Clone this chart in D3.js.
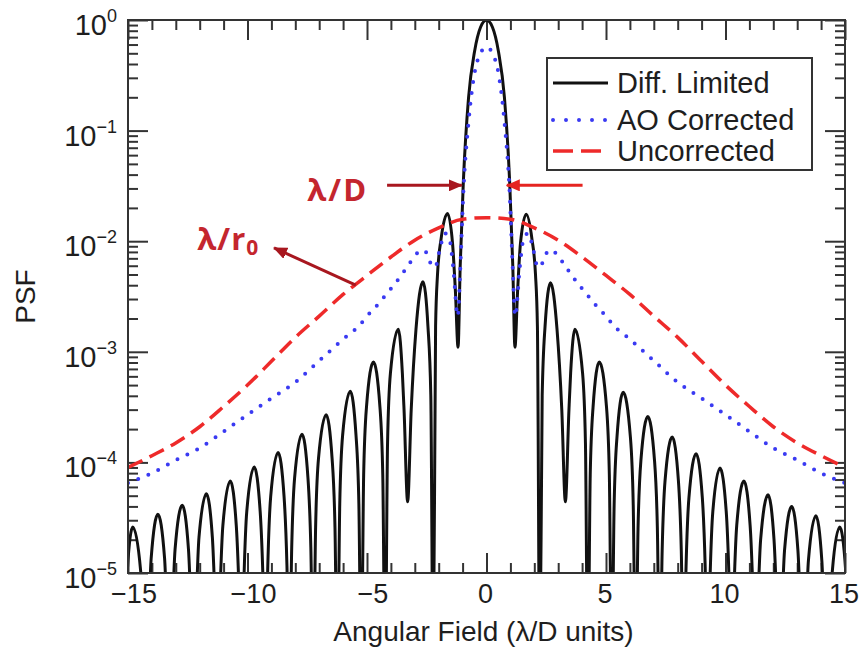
<!DOCTYPE html>
<html>
<head>
<meta charset="utf-8">
<script src="https://d3js.org/d3.v7.min.js"></script>
<style>
  body { margin: 0; background: #fff; }
  text { font-family: "Liberation Sans", Arial, Helvetica, sans-serif; fill: #1e1e1e; }
</style>
</head>
<body>
<div id="chart"></div>
<script>
// axis ticks and labels
var xTicks = [-15, -10, -5, 0, 5, 10, 15];
var xTickLabels = ["\u221215", "\u221210", "\u22125", "0", "5", "10", "15"];
var yTicks = [1e0, 1e-1, 1e-2, 1e-3, 1e-4, 1e-5];
var yTickExp = ["0", "\u22121", "\u22122", "\u22123", "\u22124", "\u22125"];

// diffraction limited PSF, [angular field, psf]
// (values of 1e-6 are the nulls that fall below the bottom axis)
var diffLimited = [
  [-15.25, 1e-6], [-15.15, 2.5e-6], [-15.03, 1.04e-5], [-14.8, 2.6e-5], [-14.47, 1.04e-5], [-14.35, 2.5e-6], [-14.25, 1e-6],
  [-14.15, 3.2e-6], [-14.03, 1.36e-5], [-13.75, 3.4e-5], [-13.47, 1.36e-5], [-13.35, 3.2e-6], [-13.25, 1e-6],
  [-13.15, 3.9e-6], [-13.03, 1.64e-5], [-12.73, 4.1e-5], [-12.47, 1.64e-5], [-12.35, 3.9e-6], [-12.25, 1e-6],
  [-12.15, 4.9e-6], [-12.03, 2.1e-5], [-11.72, 5.2e-5], [-11.47, 2.1e-5], [-11.35, 4.9e-6], [-11.25, 1e-6],
  [-11.15, 6.5e-6], [-11.03, 2.7e-5], [-10.72, 6.8e-5], [-10.47, 2.7e-5], [-10.35, 6.5e-6], [-10.25, 1e-6],
  [-10.15, 8.6e-6], [-10.03, 3.6e-5], [-9.72, 9.1e-5], [-9.47, 3.6e-5], [-9.35, 8.6e-6], [-9.25, 1e-6],
  [-9.15, 1.17e-5], [-9.03, 4.9e-5], [-8.72, 1.23e-4], [-8.47, 4.9e-5], [-8.35, 1.17e-5], [-8.25, 1e-6],
  [-8.15, 1.7e-5], [-8.03, 7.2e-5], [-7.72, 1.8e-4], [-7.47, 7.2e-5], [-7.35, 1.7e-5], [-7.25, 1e-6],
  [-7.15, 2.6e-5], [-7.03, 1.08e-4], [-6.71, 2.7e-4], [-6.46, 1.08e-4], [-6.34, 2.6e-5], [-6.24, 1e-6],
  [-6.14, 4.2e-5], [-6.02, 1.76e-4], [-5.7, 4.4e-4], [-5.46, 1.76e-4], [-5.34, 4.2e-5], [-5.24, 1e-6],
  [-5.14, 7.7e-5], [-5.02, 3.2e-4], [-4.73, 8.1e-4], [-4.46, 3.2e-4], [-4.34, 7.7e-5], [-4.24, 1e-6],
  [-4.14, 1.5e-4], [-4.02, 6.4e-4], [-3.69, 1.6e-3], [-3.52, 6.4e-4], [-3.45, 3e-4], [-3.3, 4.4e-5],
  [-3.15, 3e-4], [-2.95, 1.6e-3], [-2.66, 4.3e-3], [-2.45, 1.7e-3], [-2.33, 4e-4], [-2.23, 1e-6],
  [-2.13, 1.7e-3], [-2.05, 5e-3], [-1.9, 0.0105], [-1.63, 0.0178], [-1.42, 9.5e-3], [-1.3, 3.5e-3], [-1.19, 1.1e-3],
  [-1.1, 6e-3], [-0.97, 0.034], [-0.75, 0.2], [-0.5, 0.52], [-0.25, 0.86], [0, 1],
  [0.25, 0.86], [0.5, 0.52], [0.75, 0.2], [0.97, 0.034], [1.1, 6e-3],
  [1.19, 1.1e-3], [1.3, 3.5e-3], [1.42, 9.5e-3], [1.66, 0.0175], [1.9, 0.0105], [2.05, 5e-3], [2.13, 1.7e-3], [2.23, 1e-6],
  [2.33, 4e-4], [2.45, 1.7e-3], [2.68, 4.2e-3], [2.95, 1.6e-3], [3.15, 3e-4], [3.3, 4.4e-5],
  [3.45, 3e-4], [3.52, 6.4e-4], [3.7, 1.6e-3], [4.02, 6.4e-4], [4.14, 1.5e-4], [4.24, 1e-6],
  [4.34, 7.7e-5], [4.46, 3.2e-4], [4.72, 8.1e-4], [5.02, 3.2e-4], [5.14, 7.7e-5], [5.24, 1e-6],
  [5.34, 4.1e-5], [5.46, 1.7e-4], [5.72, 4.3e-4], [6.02, 1.7e-4], [6.14, 4.1e-5], [6.24, 1e-6],
  [6.34, 2.5e-5], [6.46, 1.04e-4], [6.75, 2.6e-4], [7.03, 1.04e-4], [7.15, 2.5e-5], [7.25, 1e-6],
  [7.35, 1.6e-5], [7.47, 6.8e-5], [7.77, 1.7e-4], [8.03, 6.8e-5], [8.15, 1.6e-5], [8.25, 1e-6],
  [8.35, 1.14e-5], [8.47, 4.8e-5], [8.77, 1.2e-4], [9.03, 4.8e-5], [9.15, 1.14e-5], [9.25, 1e-6],
  [9.35, 8.5e-6], [9.47, 3.6e-5], [9.77, 8.9e-5], [10.03, 3.6e-5], [10.15, 8.5e-6], [10.25, 1e-6],
  [10.35, 6.5e-6], [10.47, 2.7e-5], [10.77, 6.8e-5], [11.03, 2.7e-5], [11.15, 6.5e-6], [11.25, 1e-6],
  [11.35, 4.8e-6], [11.47, 2.0e-5], [11.78, 5.1e-5], [12.03, 2.0e-5], [12.15, 4.8e-6], [12.25, 1e-6],
  [12.35, 3.8e-6], [12.47, 1.6e-5], [12.77, 4.0e-5], [13.03, 1.6e-5], [13.15, 3.8e-6], [13.25, 1e-6],
  [13.35, 3.1e-6], [13.47, 1.3e-5], [13.78, 3.3e-5], [14.03, 1.3e-5], [14.15, 3.1e-6], [14.25, 1e-6],
  [14.35, 2.5e-6], [14.47, 1.04e-5], [14.78, 2.6e-5], [15.03, 1.04e-5], [15.15, 2.5e-6], [15.25, 1e-6]
];

// AO corrected PSF
var aoCorrected = [
  [-15, 6.5e-5], [-14, 8e-5], [-13, 1.05e-4], [-12, 1.35e-4], [-11, 1.9e-4], [-10, 2.7e-4],
  [-9, 3.8e-4], [-8, 5.3e-4], [-7, 8.3e-4], [-6, 1.3e-3], [-5.3, 1.75e-3], [-5, 2.1e-3],
  [-4.6, 2.6e-3], [-4.2, 3.3e-3], [-3.6, 4.8e-3], [-3.2, 6.4e-3], [-2.9, 7.8e-3], [-2.6, 8.3e-3],
  [-2.35, 6.4e-3], [-2.15, 5.8e-3], [-1.95, 8.5e-3], [-1.75, 0.0118], [-1.55, 0.0105], [-1.4, 6e-3],
  [-1.2, 2.1e-3], [-1.1, 5.5e-3], [-0.97, 0.027], [-0.75, 0.12], [-0.5, 0.33], [-0.25, 0.5], [0, 0.57],
  [0.25, 0.5], [0.5, 0.33], [0.75, 0.12], [0.97, 0.027], [1.1, 5.5e-3], [1.2, 2.1e-3],
  [1.4, 6e-3], [1.55, 0.0105], [1.75, 0.0118], [1.95, 8.5e-3], [2.15, 5.8e-3], [2.35, 6.4e-3],
  [2.6, 8.3e-3], [2.9, 7.8e-3], [3.2, 6.4e-3], [3.6, 4.8e-3], [4.2, 3.3e-3], [4.6, 2.6e-3],
  [5, 2.1e-3], [5.3, 1.75e-3], [6, 1.3e-3], [7, 8.3e-4], [8, 5.3e-4], [9, 3.8e-4],
  [10, 2.7e-4], [11, 1.9e-4], [12, 1.35e-4], [13, 1.05e-4], [14, 8e-5], [15, 6.5e-5]
];

// uncorrected (seeing limited) PSF
var uncorrected = [
  [-15, 9e-5], [-14, 1.15e-4], [-13, 1.5e-4], [-12, 2.1e-4], [-11, 3.2e-4], [-10, 5e-4],
  [-9, 8.2e-4], [-8, 1.35e-3], [-7, 2.1e-3], [-6, 3.3e-3], [-5, 4.9e-3], [-4, 7.2e-3],
  [-3, 0.0102], [-2, 0.0132], [-1, 0.0158], [0, 0.0163], [1, 0.0158], [2, 0.0132],
  [3, 0.0102], [4, 7.2e-3], [5, 4.9e-3], [6, 3.3e-3], [7, 2.1e-3], [8, 1.35e-3],
  [9, 8.2e-4], [10, 5e-4], [11, 3.2e-4], [12, 2.1e-4], [13, 1.5e-4], [14, 1.15e-4], [15, 9e-5]
];

var legendLabels = ["Diff. Limited", "AO Corrected", "Uncorrected"];

// set the dimensions and margins of the graph
var margin = {top: 20, right: 18, bottom: 77, left: 128},
    width = 863 - margin.left - margin.right,
    height = 650 - margin.top - margin.bottom;

var svg = d3.select("#chart")
  .append("svg")
    .attr("width", width + margin.left + margin.right)
    .attr("height", height + margin.top + margin.bottom);

var g = svg.append("g")
    .attr("transform", "translate(" + margin.left + "," + margin.top + ")");

var x = d3.scaleLinear().domain([-15, 15]).range([0, width]);
var y = d3.scaleLog().domain([1e-5, 1]).range([height, 0]);

var defs = svg.append("defs");
defs.append("clipPath").attr("id", "plotclip")
  .append("rect").attr("width", width).attr("height", height);

function arrowHead(id, color) {
  defs.append("marker")
      .attr("id", id)
      .attr("markerUnits", "userSpaceOnUse")
      .attr("viewBox", "0 0 14 12")
      .attr("markerWidth", 14).attr("markerHeight", 12)
      .attr("refX", 13).attr("refY", 6)
      .attr("orient", "auto")
    .append("path")
      .attr("d", "M0,0 L14,6 L0,12 Z")
      .attr("fill", color);
}
arrowHead("headDark", "#a8171f");
arrowHead("headRed", "#e52420");

// ticks: inward on all four sides
var xMinor = x.ticks(30).filter(function(d) { return xTicks.indexOf(d) < 0; });
var yMinor = y.ticks().filter(function(d) { return yTicks.indexOf(d) < 0; });

function styleAxis(sel) {
  sel.select(".domain").remove();
  sel.selectAll(".tick line").attr("stroke", "#333").attr("stroke-width", 2);
  sel.selectAll(".tick text").remove();
}

[[d3.axisBottom, height], [d3.axisTop, 0]].forEach(function(a) {
  g.append("g").attr("transform", "translate(0," + a[1] + ")")
    .call(a[0](x).tickValues(xTicks).tickSize(-20).tickFormat("")).call(styleAxis);
  g.append("g").attr("transform", "translate(0," + a[1] + ")")
    .call(a[0](x).tickValues(xMinor).tickSize(-10).tickFormat("")).call(styleAxis);
});
[[d3.axisLeft, 0], [d3.axisRight, width]].forEach(function(a) {
  g.append("g").attr("transform", "translate(" + a[1] + ",0)")
    .call(a[0](y).tickValues(yTicks).tickSize(-20).tickFormat("")).call(styleAxis);
  g.append("g").attr("transform", "translate(" + a[1] + ",0)")
    .call(a[0](y).tickValues(yMinor).tickSize(-10).tickFormat("")).call(styleAxis);
});

// tick labels
g.selectAll(".xlab").data(xTicks).enter().append("text")
    .attr("class", "xlab")
    .attr("x", function(d) { return x(d) + (d < 0 ? 6 : -1); })
    .attr("y", height + 30)
    .attr("text-anchor", "middle")
    .style("font-size", "27px")
    .text(function(d, i) { return xTickLabels[i]; });

var ylab = g.selectAll(".ylab").data(yTicks).enter().append("text")
    .attr("class", "ylab")
    .attr("x", -11)
    .attr("y", function(d) { return y(d) + 15; })
    .attr("text-anchor", "end")
    .style("font-size", "29px");
ylab.append("tspan").text("10");
ylab.append("tspan").attr("dy", -13).style("font-size", "18px")
    .text(function(d, i) { return yTickExp[i]; });

// axis titles
g.append("text")
    .attr("x", x(0) - 3).attr("y", height + 68)
    .attr("text-anchor", "middle")
    .style("font-size", "28px")
    .text("Angular Field (\u03bb/D units)");
g.append("text")
    .attr("transform", "translate(" + (-93) + "," + (height / 2) + ") rotate(-90)")
    .attr("text-anchor", "middle")
    .style("font-size", "28px")
    .text("PSF");

// curves
var line = d3.line()
    .x(function(d) { return x(d[0]); })
    .y(function(d) { return y(d[1]); })
    .curve(d3.curveMonotoneX);

var plot = g.append("g").attr("clip-path", "url(#plotclip)");

plot.append("path").datum(diffLimited)
    .attr("d", line).attr("fill", "none")
    .attr("stroke", "#111").attr("stroke-width", 3).attr("stroke-linejoin", "round");
plot.append("path").datum(uncorrected)
    .attr("d", line).attr("fill", "none")
    .attr("stroke", "#ee2a2a").attr("stroke-width", 3.5).attr("stroke-dasharray", "16 8");
plot.append("path").datum(aoCorrected)
    .attr("d", line).attr("fill", "none")
    .attr("stroke", "#3a3af2").attr("stroke-width", 4)
    .attr("stroke-linecap", "round").attr("stroke-dasharray", "0 11");

// frame
g.append("rect").attr("width", width).attr("height", height)
    .attr("fill", "none").attr("stroke", "#333").attr("stroke-width", 2);

// legend
var legend = g.append("g").attr("transform", "translate(" + (547 - margin.left) + "," + (58 - margin.top) + ")");
legend.append("rect").attr("width", 265).attr("height", 112)
    .attr("fill", "#fff").attr("stroke", "#333").attr("stroke-width", 2);
var legendStyles = [
  {stroke: "#111", width: 3, dash: null, cap: "butt"},
  {stroke: "#3a3af2", width: 4, dash: "0 13", cap: "round"},
  {stroke: "#ee2a2a", width: 3.5, dash: "20 8", cap: "butt"}
];
var rowY = [25, 62, 93];
legendLabels.forEach(function(lab, i) {
  var s = legendStyles[i];
  legend.append("line")
      .attr("x1", 6).attr("x2", 61).attr("y1", rowY[i]).attr("y2", rowY[i])
      .attr("stroke", s.stroke).attr("stroke-width", s.width)
      .attr("stroke-linecap", s.cap).attr("stroke-dasharray", s.dash);
  legend.append("text")
      .attr("x", 70).attr("y", rowY[i] + 10)
      .style("font-size", "29px")
      .text(lab);
});

// annotations, placed in data coordinates
var annoColor = "#c4262e";
var arrows = [
  {from: [-4.16, 0.032], to: [-1.03, 0.032], color: "#a8171f", head: "headDark"},
  {from: [4.02, 0.032], to: [0.85, 0.032], color: "#e52420", head: "headRed"},
  {from: [-5.47, 0.004], to: [-8.89, 0.0087], color: "#a8171f", head: "headDark"}
];
arrows.forEach(function(a) {
  g.append("line")
      .attr("x1", x(a.from[0])).attr("y1", y(a.from[1]))
      .attr("x2", x(a.to[0])).attr("y2", y(a.to[1]))
      .attr("stroke", a.color).attr("stroke-width", 3)
      .attr("marker-end", "url(#" + a.head + ")");
});

g.append("text")
    .attr("x", x(-7.5)).attr("y", y(0.0229))
    .style("font-family", "'Open Sans', sans-serif")
    .style("font-weight", "bold").style("font-size", "31px")
    .style("letter-spacing", "2px")
    .style("fill", annoColor)
    .text("\u03bb/D");

var r0 = g.append("text")
    .attr("x", x(-12.1)).attr("y", y(0.0083))
    .style("font-family", "'Open Sans', sans-serif")
    .style("font-weight", "bold").style("font-size", "31px")
    .style("letter-spacing", "1px")
    .style("fill", annoColor);
r0.append("tspan").text("\u03bb/r");
r0.append("tspan").attr("dy", 5).style("font-size", "21px").text("0");
</script>
</body>
</html>
